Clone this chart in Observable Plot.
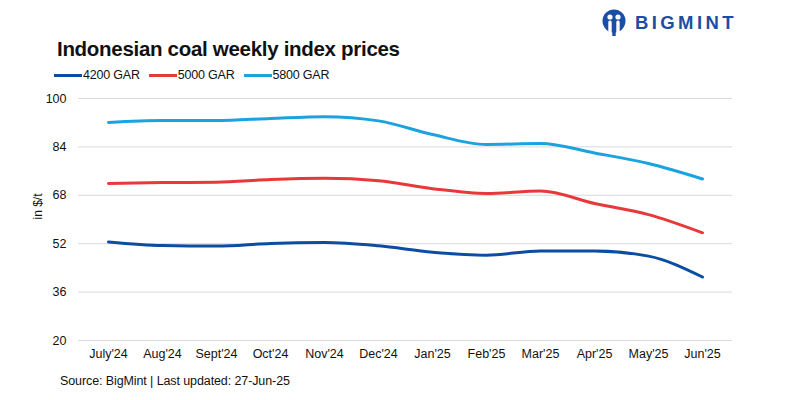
<!DOCTYPE html>
<html>
<head>
<meta charset="utf-8">
<script src="https://cdn.jsdelivr.net/npm/d3@7"></script>
<script src="https://cdn.jsdelivr.net/npm/@observablehq/plot@0.6"></script>
<style>
  html, body { margin: 0; padding: 0; background: #fff; }
  #wrap { position: relative; width: 800px; height: 400px; font-family: "Liberation Sans", Arial, sans-serif; color: #111; }
  #chart { position: absolute; left: 0; top: 0; }
  .title { position: absolute; left: 57px; top: 37px; font-size: 20.5px; font-weight: bold; letter-spacing: -0.3px; white-space: nowrap; }
  .legend { position: absolute; left: 54px; top: 68px; font-size: 12.5px; display: flex; align-items: center; white-space: nowrap; letter-spacing: -0.2px; }
  .legend .item { display: flex; align-items: center; margin-right: 9px; }
  .legend .sw { width: 28px; height: 3px; margin-right: 1px; }
  .source { position: absolute; left: 60px; top: 374px; font-size: 12.5px; white-space: nowrap; letter-spacing: -0.1px; }
  .logo { position: absolute; left: 602px; top: 9px; display: flex; align-items: center; }
  .logo span { font-size: 18.5px; font-weight: bold; color: #1a4ea6; letter-spacing: 3.4px; margin-left: 9px; }
</style>
</head>
<body>
<div id="wrap">
  <div id="chart"></div>
  <div class="logo">
    <svg width="24" height="27" viewBox="0 0 24 27">
      <ellipse cx="12" cy="12" rx="11.5" ry="11.5" fill="#1a4ea6"/>
      <circle cx="8" cy="8" r="2.6" fill="#fff"/>
      <circle cx="16" cy="8" r="2.6" fill="#fff"/>
      <rect x="6.3" y="11.5" width="3.4" height="14" rx="1.5" fill="#fff"/>
      <rect x="14.3" y="11.5" width="3.4" height="14" rx="1.5" fill="#fff"/>
      <rect x="10.3" y="20" width="3.4" height="7" fill="#1a4ea6"/>
    </svg>
    <span>BIGMINT</span>
  </div>
  <div class="title">Indonesian coal weekly index prices</div>
  <div class="legend" id="legend"></div>
  <div class="source">Source: BigMint | Last updated: 27-Jun-25</div>
</div>
<script>
const months = ["July'24","Aug'24","Sept'24","Oct'24","Nov'24","Dec'24","Jan'25","Feb'25","Mar'25","Apr'25","May'25","Jun'25"];
const seriesNames = ["4200 GAR","5000 GAR","5800 GAR"];
const seriesColors = ["#0b4da2","#e8393a","#1aa3de"];
const gar4200 = [52.6, 51.4, 51.2, 52.1, 52.4, 51.3, 49.2, 48.2, 49.6, 49.6, 47.9, 41.0];
const gar5000 = [71.9, 72.2, 72.3, 73.2, 73.6, 72.8, 70.2, 68.6, 69.4, 65.3, 61.6, 55.6];
const gar5800 = [92.1, 92.7, 92.7, 93.4, 94.0, 92.6, 88.1, 84.8, 85.1, 82.0, 78.5, 73.4];
const yTicks = [20, 36, 52, 68, 84, 100];

const allSeries = [gar4200, gar5000, gar5800];
const data = [];
allSeries.forEach((vals, si) => {
  vals.forEach((v, i) => data.push({ month: months[i], value: v, series: seriesNames[si] }));
});

const plot = Plot.plot({
  width: 800,
  height: 400,
  marginTop: 98,
  marginBottom: 60,
  marginLeft: 78,
  marginRight: 68,
  style: { fontFamily: "'Liberation Sans', Arial, sans-serif", fontSize: "12px", color: "#111", background: "transparent" },
  x: { type: "point", domain: months, padding: 0.5, label: null },
  y: { domain: [20, 100], ticks: yTicks, label: null },
  color: { domain: seriesNames, range: seriesColors },
  marks: [
    Plot.gridY(yTicks, { stroke: "#d9d9d9", strokeOpacity: 1, strokeWidth: 1 }),
    Plot.axisY({ ticks: yTicks, tickSize: 0, tickPadding: 12, fontSize: 12.5 }),
    Plot.axisX({ tickSize: 0, tickPadding: 9, fontSize: 12.5 }),
    Plot.text(["in $/t"], { frameAnchor: "left", dx: -40, rotate: -90, fontSize: 12, fill: "#111" }),
    Plot.line(data, { x: "month", y: "value", z: "series", stroke: "series", strokeWidth: 3, curve: "monotone-x" })
  ]
});
document.getElementById("chart").appendChild(plot);

const legend = document.getElementById("legend");
seriesNames.forEach((n, i) => {
  const item = document.createElement("div");
  item.className = "item";
  item.innerHTML = `<div class="sw" style="background:${seriesColors[i]}"></div><div>${n}</div>`;
  legend.appendChild(item);
});
</script>
</body>
</html>
